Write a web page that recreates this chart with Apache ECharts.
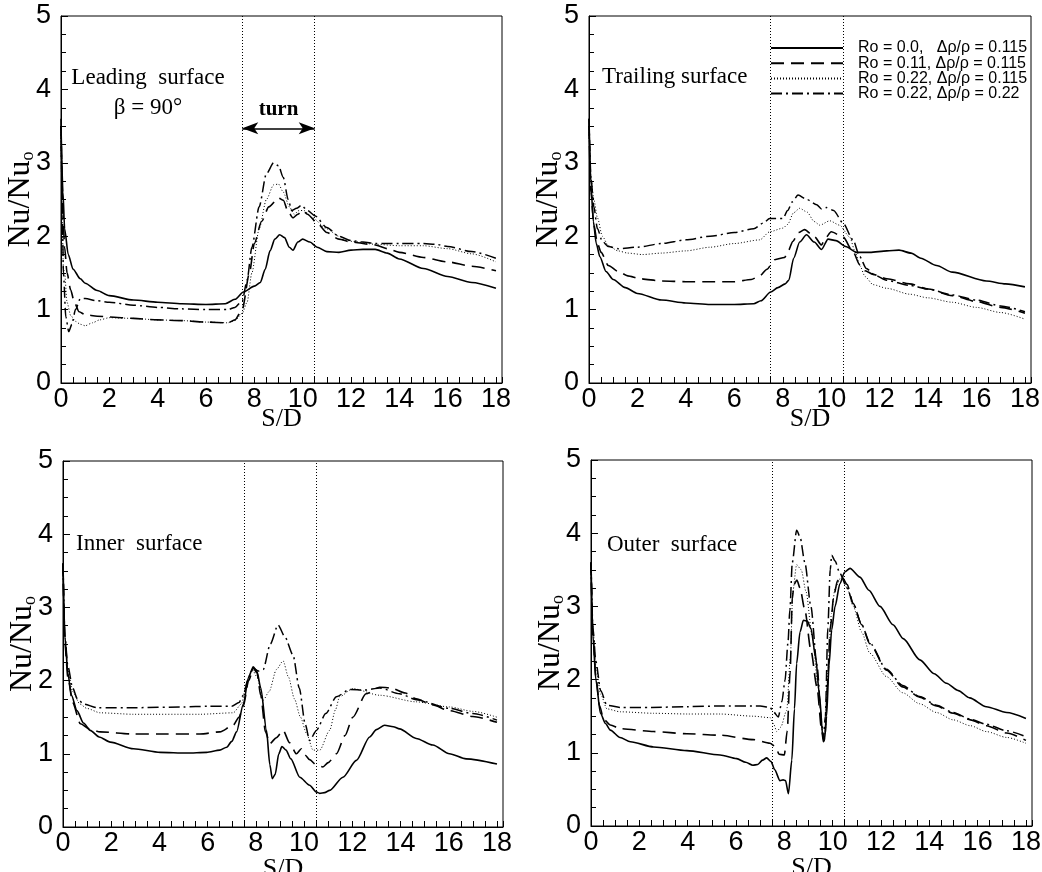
<!DOCTYPE html>
<html>
<head>
<meta charset="utf-8">
<script src="https://cdn.jsdelivr.net/npm/echarts@6/dist/echarts.min.js"></script>
<style>html,body{margin:0;padding:0;background:#fff}#c{width:1042px;height:872px}</style>
</head>
<body>
<div id="c"></div>
<script>
// ---------- data ----------
const seriesNames = ['Ro = 0.0,   \u0394\u03c1/\u03c1 = 0.115', 'Ro = 0.11, \u0394\u03c1/\u03c1 = 0.115', 'Ro = 0.22, \u0394\u03c1/\u03c1 = 0.115', 'Ro = 0.22, \u0394\u03c1/\u03c1 = 0.22'];
const panelTitles = ['Leading  surface\n\u03b2 = 90\u00b0', 'Trailing surface', 'Inner  surface', 'Outer  surface'];
const xTickLabels = [0, 2, 4, 6, 8, 10, 12, 14, 16, 18];
const yTickLabels = [0, 1, 2, 3, 4, 5];
const turnBounds = [7.5, 10.5];
const turnArrowY = 3.47;

// Leading surface
const lead0 = [[0,3.5],[0.08,2.6],[0.15,2.1],[0.3,1.75],[0.5,1.55],[0.8,1.42],[1,1.36],[1.5,1.26],[2,1.19],[3,1.13],[4,1.1],[5,1.08],[6,1.07],[6.8,1.08],[7.2,1.14],[7.55,1.24],[8.0,1.32],[8.25,1.37],[8.45,1.55],[8.65,1.8],[8.85,1.96],[9.05,2.02],[9.25,1.98],[9.45,1.85],[9.6,1.81],[9.8,1.92],[10.0,1.96],[10.3,1.92],[10.6,1.85],[11,1.79],[11.5,1.78],[12,1.81],[12.5,1.82],[13,1.82],[13.5,1.77],[14,1.69],[15,1.56],[16,1.45],[17,1.37],[18,1.29]];
const lead1 = [[0,3.5],[0.08,2.3],[0.15,1.85],[0.25,1.5],[0.4,1.27],[0.55,1.1],[0.75,0.97],[1,0.93],[1.5,0.91],[2,0.9],[3,0.88],[4,0.86],[5,0.85],[6,0.83],[6.9,0.82],[7.2,0.86],[7.5,1.0],[7.8,1.5],[8.0,1.9],[8.3,2.2],[8.6,2.4],[9.0,2.52],[9.2,2.49],[9.4,2.33],[9.6,2.25],[9.8,2.3],[10.0,2.35],[10.2,2.3],[10.6,2.18],[11,2.05],[11.5,1.96],[12,1.92],[13,1.88],[13.5,1.83],[14,1.78],[15,1.71],[16,1.65],[17,1.59],[18,1.53]];
const lead2 = [[0,3.5],[0.05,2.2],[0.1,1.55],[0.15,1.5],[0.25,1.1],[0.4,0.92],[0.6,0.84],[0.8,0.8],[1,0.78],[1.3,0.82],[1.6,0.86],[2,0.89],[3,0.88],[4,0.86],[5,0.85],[6,0.83],[6.9,0.82],[7.2,0.85],[7.5,0.95],[7.7,1.1],[7.9,1.5],[8.2,2.1],[8.5,2.5],[8.8,2.7],[9.0,2.71],[9.2,2.6],[9.45,2.4],[9.65,2.3],[9.85,2.35],[10.05,2.35],[10.4,2.25],[11,2.1],[11.5,2.0],[12,1.93],[13,1.89],[14,1.87],[15,1.87],[16,1.83],[17,1.76],[18,1.65]];
const lead3 = [[0,3.6],[0.05,2.5],[0.1,1.5],[0.2,0.9],[0.32,0.7],[0.45,0.8],[0.6,1.0],[0.8,1.15],[1,1.15],[1.5,1.12],[2,1.1],[3,1.06],[4,1.03],[5,1.01],[6,1.0],[6.9,1.0],[7.2,1.03],[7.5,1.12],[7.7,1.4],[7.9,1.85],[8.2,2.4],[8.5,2.85],[8.8,3.0],[9.0,2.96],[9.2,2.8],[9.4,2.5],[9.55,2.35],[9.75,2.38],[9.95,2.42],[10.2,2.35],[10.5,2.28],[11,2.12],[11.5,2.0],[12,1.94],[12.5,1.92],[13,1.9],[14,1.9],[15,1.9],[15.5,1.89],[16,1.86],[17,1.79],[18,1.7]];

// Trailing surface
const trail0 = [[0,3.6],[0.08,2.7],[0.18,2.2],[0.3,1.9],[0.45,1.72],[0.7,1.52],[1,1.41],[1.5,1.3],[2,1.22],[3,1.13],[4,1.09],[5,1.07],[6,1.07],[6.8,1.08],[7.1,1.12],[7.5,1.24],[7.8,1.3],[8.1,1.35],[8.25,1.4],[8.45,1.7],[8.7,1.92],[8.98,2.02],[9.3,1.92],[9.6,1.82],[9.87,1.96],[10.2,1.94],[10.6,1.86],[11.04,1.78],[11.6,1.78],[12.3,1.8],[12.8,1.81],[13.3,1.77],[13.7,1.7],[14.35,1.6],[15,1.51],[16.4,1.39],[17.2,1.35],[18,1.31]];
const trail1 = [[0,3.5],[0.08,2.6],[0.2,2.15],[0.35,1.9],[0.5,1.78],[0.8,1.6],[1.2,1.52],[1.6,1.46],[2.1,1.42],[3,1.39],[4,1.38],[5,1.38],[6,1.38],[6.7,1.41],[7.05,1.46],[7.35,1.55],[7.67,1.68],[8.08,1.71],[8.2,1.78],[8.42,1.93],[8.65,2.05],[8.9,2.09],[9.32,1.99],[9.6,1.88],[9.75,1.97],[10.0,2.06],[10.49,1.99],[10.9,1.79],[11.18,1.61],[11.4,1.53],[11.73,1.48],[12.3,1.42],[13.24,1.35],[14,1.28],[15,1.19],[16,1.11],[17,1.03],[18,0.95]];
const trail2 = [[0,3.5],[0.08,2.8],[0.2,2.5],[0.35,2.25],[0.55,2.0],[0.8,1.87],[1.2,1.8],[1.6,1.77],[2.2,1.75],[3,1.77],[4,1.8],[5,1.85],[6,1.9],[7.05,1.95],[7.46,2.06],[8.01,2.11],[8.2,2.16],[8.45,2.32],[8.7,2.38],[9.0,2.33],[9.3,2.2],[9.53,2.15],[9.94,2.21],[10.35,2.15],[10.76,1.99],[11.0,1.78],[11.18,1.6],[11.4,1.45],[11.73,1.34],[12.3,1.29],[13.24,1.21],[14,1.16],[15,1.1],[16,1.03],[17,0.96],[18,0.87]];
const trail3 = [[0,3.6],[0.08,2.8],[0.2,2.4],[0.35,2.1],[0.55,1.93],[0.8,1.86],[1.2,1.83],[2,1.85],[3,1.9],[4,1.95],[5,2.0],[6,2.05],[6.8,2.1],[7.2,2.18],[7.46,2.24],[8.01,2.24],[8.2,2.35],[8.4,2.47],[8.63,2.56],[9.0,2.5],[9.4,2.43],[9.6,2.37],[9.8,2.39],[10.1,2.35],[10.49,2.18],[10.9,1.95],[11.18,1.72],[11.45,1.56],[11.8,1.47],[12.28,1.4],[13.24,1.33],[14,1.28],[15,1.2],[16,1.13],[17,1.05],[18,0.97]];

// Inner surface
const inner0 = [[0,3.6],[0.08,2.6],[0.2,2.1],[0.35,1.8],[0.58,1.59],[0.85,1.42],[1.13,1.32],[1.5,1.23],[1.96,1.16],[2.92,1.07],[4.03,1.02],[5.13,1.01],[5.96,1.02],[6.5,1.05],[6.79,1.09],[7.0,1.17],[7.2,1.3],[7.48,1.68],[7.7,2.05],[7.89,2.19],[8.05,2.12],[8.2,1.9],[8.44,1.32],[8.58,0.85],[8.68,0.66],[8.8,0.72],[8.95,1.0],[9.08,1.1],[9.25,1.05],[9.45,0.93],[9.82,0.68],[10.23,0.57],[10.5,0.48],[10.65,0.46],[10.85,0.47],[11.06,0.5],[11.61,0.68],[12.17,0.91],[12.72,1.23],[13.0,1.33],[13.34,1.39],[13.7,1.37],[13.96,1.34],[14.65,1.21],[15.34,1.12],[16.03,1.0],[16.72,0.93],[18,0.86]];
const inner1 = [[0,3.6],[0.08,2.5],[0.2,2.05],[0.4,1.7],[0.72,1.41],[1.1,1.34],[1.54,1.3],[2.92,1.27],[4.3,1.27],[5.68,1.27],[6.51,1.3],[7.06,1.39],[7.3,1.5],[7.48,1.65],[7.7,2.0],[7.9,2.17],[8.05,2.1],[8.2,1.8],[8.4,1.3],[8.58,1.14],[8.85,1.22],[9.13,1.32],[9.4,1.15],[9.68,1.0],[9.89,1.07],[10.05,0.98],[10.23,0.92],[10.5,0.85],[10.78,0.82],[11.0,0.88],[11.34,1.0],[11.7,1.25],[12.02,1.5],[12.57,1.82],[13.13,1.91],[13.6,1.9],[14.2,1.83],[14.65,1.75],[15.3,1.67],[16.03,1.59],[17,1.51],[18,1.43]];
const inner2 = [[0,3.6],[0.08,2.6],[0.2,2.15],[0.4,1.85],[0.7,1.68],[0.99,1.62],[1.54,1.56],[2.92,1.54],[5.68,1.54],[7.06,1.56],[7.4,1.68],[7.6,1.95],[7.85,2.15],[8.05,2.05],[8.3,1.73],[8.55,1.85],[8.85,2.15],[9.13,2.27],[9.35,2.05],[9.6,1.75],[9.85,1.5],[10.1,1.28],[10.37,1.05],[10.65,1.05],[11.06,1.32],[11.3,1.6],[11.47,1.78],[12.02,1.89],[13.13,1.8],[14.65,1.71],[16.03,1.64],[17,1.58],[18,1.5]];
const inner3 = [[0,3.6],[0.08,2.6],[0.2,2.2],[0.4,1.9],[0.6,1.75],[0.86,1.68],[1.41,1.63],[3,1.63],[5,1.64],[6,1.65],[7,1.65],[7.3,1.7],[7.48,1.8],[7.7,2.05],[7.9,2.17],[8.1,2.13],[8.3,2.15],[8.6,2.5],[8.92,2.76],[9.2,2.6],[9.54,2.35],[9.8,1.9],[10.05,1.4],[10.23,1.18],[10.51,1.32],[10.9,1.55],[11.34,1.78],[11.9,1.88],[12.5,1.87],[13.13,1.9],[13.96,1.82],[14.65,1.74],[16.03,1.62],[17,1.55],[18,1.46]];

// Outer surface
const outer0 = [[0,3.6],[0.08,2.6],[0.2,2.0],[0.39,1.54],[0.6,1.4],[0.8,1.31],[1.2,1.21],[1.63,1.15],[2.59,1.08],[3.97,1.03],[5.34,0.97],[6.03,0.92],[6.4,0.87],[6.7,0.83],[6.9,0.84],[7.1,0.9],[7.27,0.93],[7.45,0.88],[7.6,0.77],[7.82,0.62],[7.95,0.63],[8.05,0.62],[8.17,0.44],[8.31,0.9],[8.42,1.6],[8.51,2.22],[8.65,2.65],[8.79,2.81],[8.95,2.8],[9.1,2.7],[9.3,2.3],[9.45,1.8],[9.6,1.2],[9.66,1.17],[9.75,1.5],[9.85,2.2],[9.96,2.68],[10.1,3.0],[10.3,3.31],[10.5,3.47],[10.72,3.52],[11.13,3.4],[11.5,3.22],[11.96,3.0],[12.5,2.75],[12.92,2.56],[13.61,2.27],[14.2,2.08],[14.71,1.95],[15.2,1.85],[15.67,1.75],[16.36,1.63],[17.2,1.55],[18,1.47]];
const outer1 = [[0,3.6],[0.08,2.6],[0.2,2.05],[0.35,1.65],[0.52,1.46],[0.8,1.38],[1.21,1.33],[2.59,1.29],[3.97,1.26],[5.34,1.24],[6.72,1.18],[7.41,1.13],[7.65,1.08],[7.78,0.98],[8.0,0.97],[8.12,1.3],[8.24,2.1],[8.33,3.1],[8.4,3.3],[8.52,3.36],[8.65,3.25],[8.85,2.95],[9.1,2.4],[9.35,1.9],[9.55,1.3],[9.62,1.15],[9.68,1.2],[9.78,1.9],[9.9,2.7],[10.05,3.15],[10.2,3.35],[10.37,3.41],[10.6,3.3],[10.85,3.04],[11.2,2.75],[11.54,2.49],[12.23,2.13],[12.9,1.9],[13.6,1.76],[14.3,1.64],[14.99,1.54],[15.7,1.45],[16.36,1.37],[17.2,1.27],[18,1.17]];
const outer2 = [[0,3.6],[0.08,2.7],[0.2,2.2],[0.4,1.8],[0.66,1.6],[1.21,1.56],[2.59,1.54],[4,1.53],[5.34,1.53],[6.72,1.5],[7.41,1.48],[7.55,1.4],[7.69,1.29],[7.85,1.35],[8.1,1.58],[8.25,2.3],[8.35,3.2],[8.51,3.57],[8.7,3.5],[8.9,3.2],[9.15,2.6],[9.4,1.9],[9.58,1.3],[9.63,1.15],[9.7,1.3],[9.8,2.1],[9.95,2.9],[10.1,3.25],[10.37,3.41],[10.6,3.25],[10.85,3.0],[11.2,2.65],[11.54,2.36],[12.23,2.04],[12.9,1.82],[13.6,1.67],[14.3,1.55],[14.99,1.45],[15.7,1.37],[16.36,1.29],[17.2,1.21],[18,1.13]];
const outer3 = [[0,3.6],[0.08,2.7],[0.2,2.25],[0.4,1.85],[0.66,1.65],[1.21,1.62],[2.5,1.62],[4,1.63],[5.34,1.64],[7.0,1.64],[7.41,1.62],[7.55,1.56],[7.75,1.49],[7.9,1.7],[8.03,1.99],[8.15,2.5],[8.23,2.95],[8.33,3.6],[8.51,4.04],[8.65,3.95],[8.85,3.6],[9.1,3.0],[9.35,2.2],[9.55,1.4],[9.62,1.2],[9.7,1.5],[9.8,2.7],[9.9,3.5],[9.96,3.7],[10.1,3.62],[10.3,3.45],[10.6,3.25],[10.85,3.04],[11.2,2.75],[11.54,2.5],[12.23,2.14],[12.9,1.92],[13.6,1.77],[14.3,1.65],[14.99,1.55],[15.7,1.46],[16.36,1.39],[17.2,1.3],[18,1.22]];

const panelData = [
  [lead0, lead1, lead2, lead3],
  [trail0, trail1, trail2, trail3],
  [inner0, inner1, inner2, inner3],
  [outer0, outer1, outer2, outer3]
];

// ---------- styling / layout ----------
const lineStyles = [
  {type: 'solid', width: 1.6},
  {type: [13, 7], width: 1.6},
  {type: [1, 2], width: 1},
  {type: [11, 4, 2, 4], width: 1.5}
];
const grids = [
  {left: 61, top: 16, width: 441, height: 367},
  {left: 589, top: 16, width: 442, height: 367},
  {left: 63, top: 461, width: 440, height: 366},
  {left: 591, top: 460, width: 441, height: 366}
];
const xNameGaps = [23, 23, 29, 29];
const titlePos = [
  {left: 148, top: 63, textAlign: 'center'},
  {left: 602, top: 62},
  {left: 76, top: 529},
  {left: 607, top: 530}
];
const SANS = 'Liberation Sans, Arial, sans-serif';
const SERIF = 'Liberation Serif, Times New Roman, serif';

const option = {
  backgroundColor: '#fff',
  animation: false,
  title: panelTitles.map((t, i) => Object.assign({
    text: t, padding: 0,
    textStyle: {fontFamily: SERIF, fontSize: 23, fontWeight: 'normal', color: '#000', lineHeight: 30}
  }, titlePos[i])),
  legend: {
    data: seriesNames, orient: 'vertical', left: 770, top: 40, padding: 0,
    itemWidth: 72, itemHeight: 14, itemGap: -0.8, selectedMode: false,
    itemStyle: {color: 'rgba(0,0,0,0)', borderWidth: 0, opacity: 0},
    textStyle: {fontFamily: SANS, fontSize: 16, color: '#000', lineHeight: 14, padding: [0, 0, 0, 10]}
  },
  grid: grids.map(g => Object.assign({show: true, borderColor: '#000', borderWidth: 1, backgroundColor: 'transparent', containLabel: false, outerBoundsMode: 'none'}, g)),
  xAxis: grids.map((g, i) => ({
    type: 'value', gridIndex: i, min: 0, max: 18.25, interval: 0.5,
    name: 'S/D', nameLocation: 'middle', nameGap: xNameGaps[i], nameMoveOverlap: false,
    nameTextStyle: {fontFamily: SERIF, fontSize: 26, color: '#000'},
    axisLine: {lineStyle: {color: '#000', width: 1}},
    axisTick: {inside: true, length: 6, lineStyle: {color: '#000'}},
    splitLine: {show: false},
    axisLabel: {
      fontFamily: SANS, fontSize: 27, color: '#000', margin: 3,
      formatter: v => (xTickLabels.indexOf(v) >= 0 ? String(v) : '')
    }
  })),
  yAxis: grids.map((g, i) => ({
    type: 'value', gridIndex: i, min: 0, max: 5, interval: 1,
    name: '{a|Nu/Nu}{b|o}', nameLocation: 'middle', nameGap: 24, nameMoveOverlap: false,
    nameTextStyle: {
      fontFamily: SERIF, color: '#000',
      rich: {
        a: {fontFamily: SERIF, fontSize: 32, lineHeight: 32, verticalAlign: 'top', color: '#000'},
        b: {fontFamily: SERIF, fontSize: 18, lineHeight: 18, verticalAlign: 'bottom', padding: [24, 0, 0, 0], color: '#000'}
      }
    },
    axisLine: {lineStyle: {color: '#000', width: 1}},
    axisTick: {inside: true, length: 7, lineStyle: {color: '#000'}},
    minorTick: {show: true, splitNumber: 4, length: 5, lineStyle: {color: '#000'}},
    splitLine: {show: false},
    minorSplitLine: {show: false},
    axisLabel: {
      fontFamily: SANS, fontSize: 27, color: '#000', margin: 10,
      formatter: v => (yTickLabels.indexOf(v) >= 0 ? String(v) : '')
    }
  })),
  series: []
};

panelData.forEach((curves, p) => {
  curves.forEach((data, s) => {
    const ser = {
      type: 'line', name: seriesNames[s], xAxisIndex: p, yAxisIndex: p,
      data: data, symbol: 'none', showSymbol: false, smooth: 0.25, smoothMonotone: 'x',
      lineStyle: Object.assign({color: '#000'}, lineStyles[s]),
      itemStyle: {color: '#000'},
      silent: true, z: 3
    };
    if (s === 0) {
      ser.markLine = {
        silent: true, symbol: 'none', animation: false,
        label: {show: false},
        lineStyle: {color: '#000', type: [1, 2], width: 1},
        data: turnBounds.map(b => ({xAxis: b}))
      };
    }
    if (s === 1 && p === 0) {
      ser.markLine = {
        silent: true, symbol: ['arrow', 'arrow'], symbolSize: [9, 16], animation: false,
        lineStyle: {color: '#000', type: 'solid', width: 1.6},
        label: {show: true, position: 'insideMiddleTop', distance: 8, formatter: 'turn',
          fontFamily: SERIF, fontSize: 21, fontWeight: 'bold', color: '#000'},
        data: [[{coord: [turnBounds[0], turnArrowY]}, {coord: [turnBounds[1], turnArrowY]}]]
      };
    }
    option.series.push(ser);
  });
});

const chart = echarts.init(document.getElementById('c'), null, {renderer: 'canvas'});
chart.setOption(option);
</script>
</body>
</html>
